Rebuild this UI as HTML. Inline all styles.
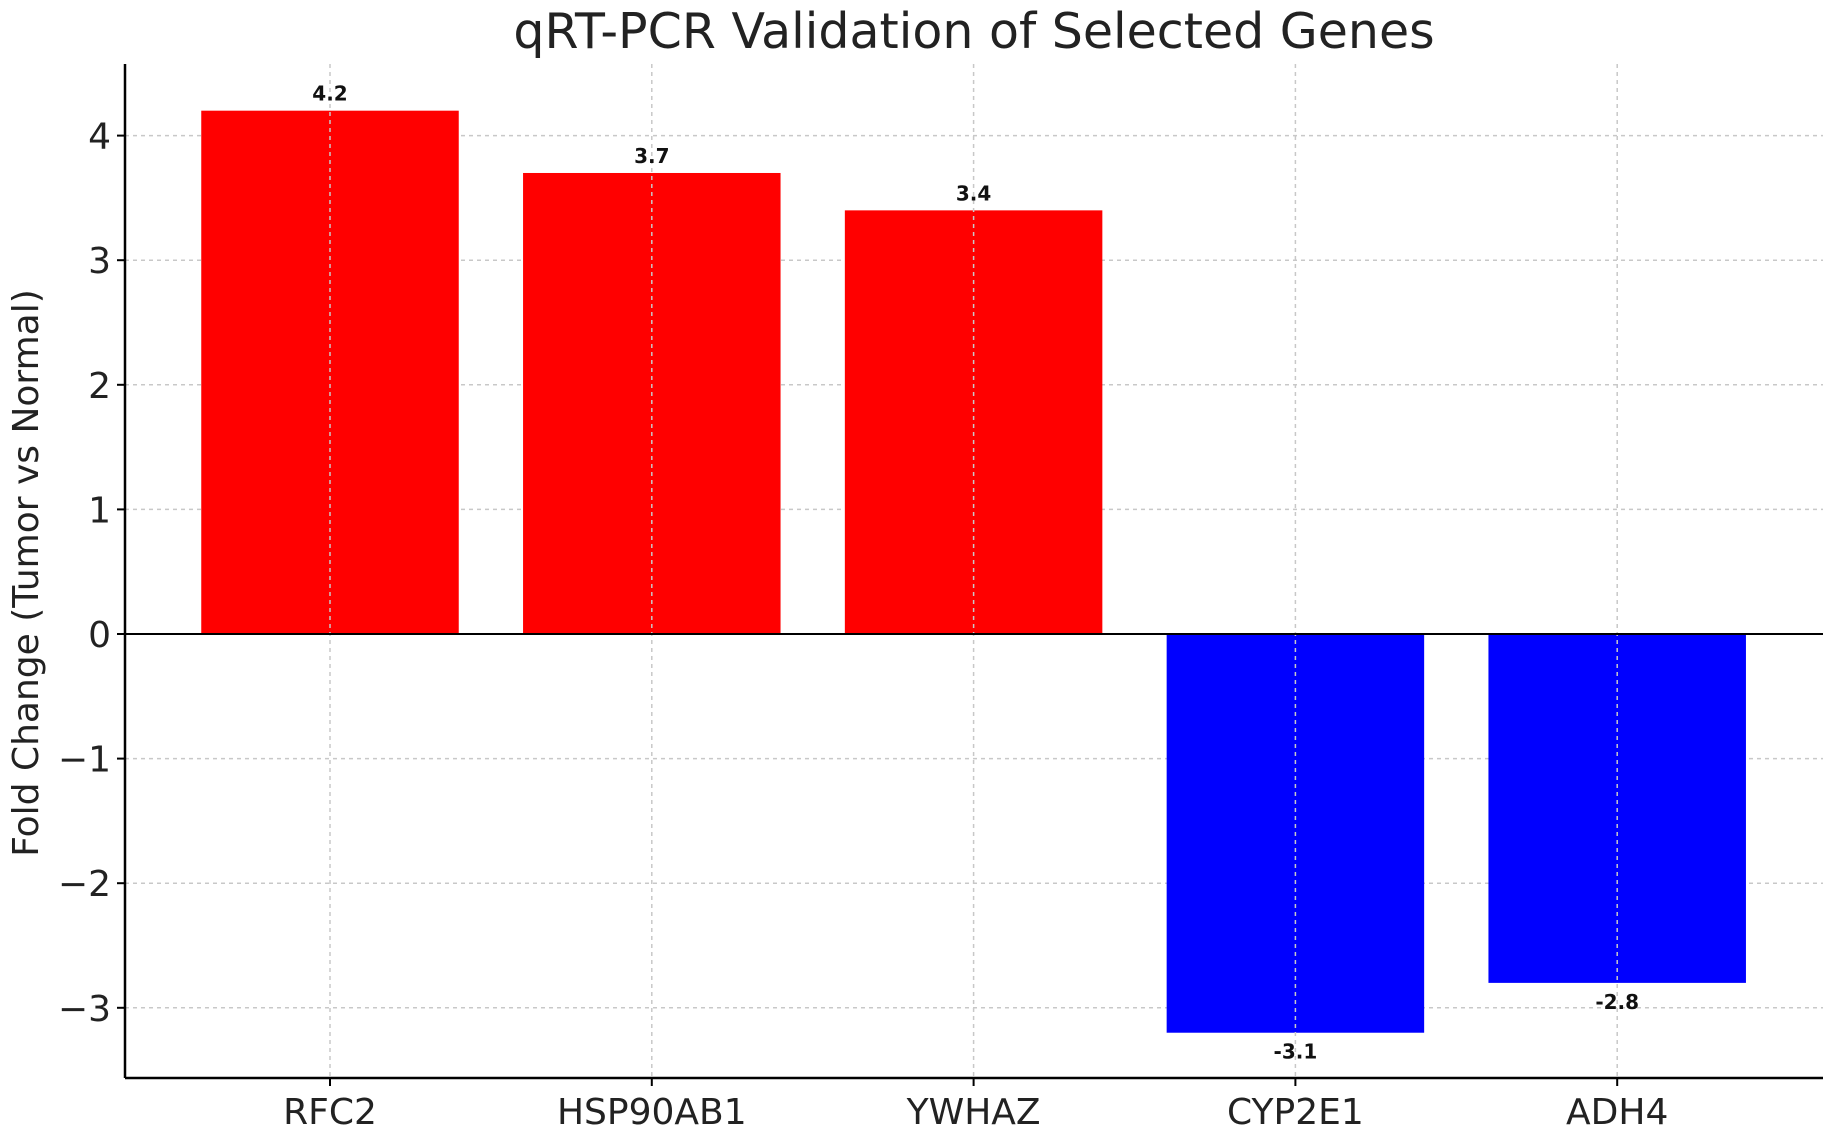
<!DOCTYPE html>
<html><head><meta charset="utf-8"><style>
body{margin:0;background:#fff;}
svg text{font-family:"DejaVu Sans","Liberation Sans",sans-serif;}
</style></head><body>
<svg id="chart" width="1835" height="1127" viewBox="0 0 1835 1127" xmlns="http://www.w3.org/2000/svg">
<text x="974" y="48" font-size="49" text-anchor="middle" fill="#222">qRT-PCR Validation of Selected Genes</text>
<text transform="translate(38,573) rotate(-90)" font-size="36" text-anchor="middle" fill="#222">Fold Change (Tumor vs Normal)</text>
<g id="grid"></g><g id="bars"></g><g id="axes"></g>
</svg>
<script>
const categories=["RFC2","HSP90AB1","YWHAZ","CYP2E1","ADH4"];
const values=[4.2,3.7,3.4,-3.2,-2.8];
const valueLabels=["4.2","3.7","3.4","-3.1","-2.8"];
const yTicks=[4,3,2,1,0,-1,-2,-3];
const yTickLabels=["4","3","2","1","0","\u22121","\u22122","\u22123"];
const NS="http://www.w3.org/2000/svg";
const L=125,R=1823,T=64,B=1078;
const y0=634,unit=124.6;
function yScale(v){return y0-v*unit;}
const step=321.8,first=330;
function xScale(i){return first+i*step;}
const bw=257.5;
function mk(tag,attrs,parent,txt){const e=document.createElementNS(NS,tag);for(const k in attrs)e.setAttribute(k,attrs[k]);if(txt!==undefined)e.textContent=txt;parent.appendChild(e);return e;}
const grid=document.getElementById('grid'),bars=document.getElementById('bars'),axes=document.getElementById('axes');
yTicks.forEach((t,i)=>{
 const y=yScale(t);
 const g=mk('line',{x1:L,x2:R,y1:y,y2:y,stroke:'#c8c8c8','stroke-width':1.5,'stroke-dasharray':'4,4'},grid);
 
 
 const tk=mk('line',{x1:L-8,x2:L,y1:y,y2:y,stroke:'#000','stroke-width':2},axes);
 
 
 const tl=mk('text',{x:L-14,y:y+13,'font-size':36,'text-anchor':'end',fill:'#222'},axes,yTickLabels[i]);
 
 
});
categories.forEach((c,i)=>{
 const x=xScale(i),v=values[i],y=yScale(v);
 const r=mk('rect',{x:x-bw/2,y:Math.min(y,y0),width:bw,height:Math.abs(y-y0),fill:v>=0?'#ff0000':'#0000ff'},bars);
 
 
 const g=mk('line',{x1:x,x2:x,y1:T,y2:B,stroke:'#c8c8c8','stroke-width':1.5,'stroke-dasharray':'4,4'},bars);
 
 
 const ly=v>=0?y-10:y+26;
 const vl=mk('text',{x:x,y:ly,'font-size':20,'font-weight':'bold','text-anchor':'middle',fill:'#111'},bars,valueLabels[i]);
 
 
 const tk=mk('line',{x1:x,x2:x,y1:B,y2:B+8,stroke:'#000','stroke-width':2},axes);
 
 
 const tl=mk('text',{x:x,y:B+46,'font-size':36,'text-anchor':'middle',fill:'#222'},axes,c);
 
 
});
const zl=mk('line',{x1:L,x2:R,y1:y0,y2:y0,stroke:'#000','stroke-width':2},axes);


const ya=mk('line',{x1:L,x2:L,y1:T,y2:B,stroke:'#000','stroke-width':2.5},axes);


const xa=mk('line',{x1:L,x2:R,y1:B,y2:B,stroke:'#000','stroke-width':2.5},axes);


</script>
</body></html>
